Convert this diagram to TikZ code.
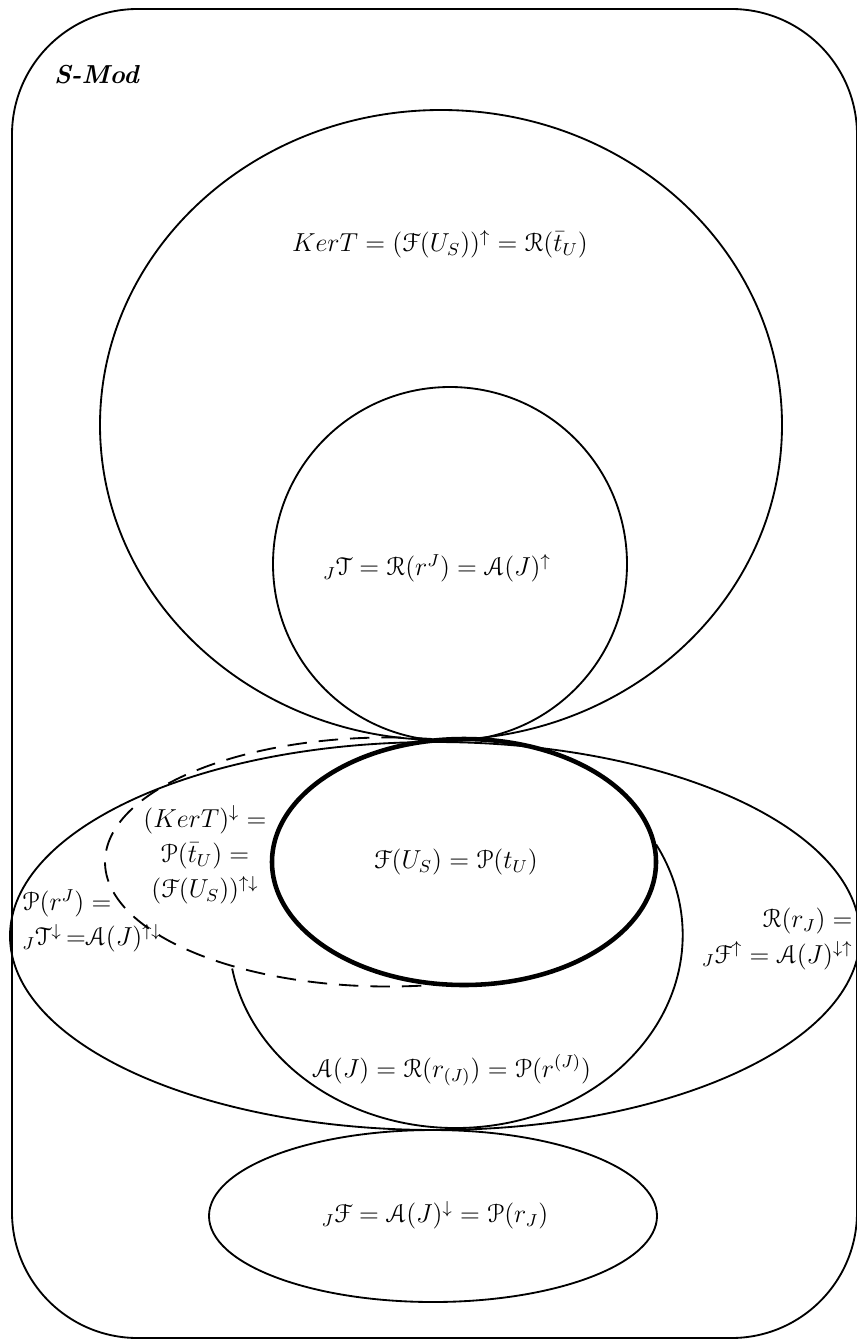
\documentclass[tikz,border=0pt]{standalone}
\usepackage[mathcal]{eucal}
\begin{document}
\begin{tikzpicture}[x=0.4615pt,y=0.4615pt,
  lbl/.style={inner sep=0pt, font=\fontsize{12}{16.2}\selectfont},
  setline/.style={line width=0.85pt},
  thickset/.style={line width=2.1pt},
  dashset/.style={line width=0.85pt, dash pattern=on 9pt off 5.5pt}]
\useasboundingbox (0,0) rectangle (856,-1340);
% outer frame
\draw[setline, rounded corners=58pt] (12,-9) rectangle (857,-1338);
\node[lbl, anchor=center] (smod) at (97,-75) {\textbf{\textit{S-Mod}}};
% big top ellipse: Ker T
\draw[setline] (441,-425) ellipse [x radius=341, y radius=315];
% inner circle: J T
\draw[setline] (450,-564) circle [radius=177];
% big middle ellipse
\draw[setline] (435,-936) ellipse [x radius=425, y radius=194];
% bottom ellipse
\draw[setline] (433,-1216) ellipse [x radius=224, y radius=86];
% A(J) arc
\draw[setline] ([shift={(190:227 and 193)}]455.7,-935) arc[start angle=190, end angle=388, x radius=227, y radius=193];
% dashed arc
\draw[dashset] ([shift={(81:283 and 124.5)}]388,-862) arc[start angle=81, end angle=281, x radius=283, y radius=124.5];
% thick ellipse F(U_S)
\draw[thickset] (464,-862) ellipse [x radius=192, y radius=123];
% labels
\node[lbl] (kert) at (440,-244) {$KerT=(\mathcal{F}(U_S))^{\uparrow}=\mathcal{R}(\bar{t}_U)$};
\node[lbl] (jt) at (437,-568) {${}_J\mathcal{T}=\mathcal{R}(r^J)=\mathcal{A}(J)^{\uparrow}$};
\node[lbl] (fus) at (456,-862) {$\mathcal{F}(U_S)=\mathcal{P}(t_U)$};
\node[lbl, align=center] (kerdown) at (205,-855) {$(KerT)^{\downarrow}=$\\ $\mathcal{P}(\bar{t}_U)=$\\ $(\mathcal{F}(U_S))^{\uparrow\downarrow}$};
\node[lbl, align=left, anchor=west] (prj) at (22,-921) {$\mathcal{P}(r^J)=$\\ ${}_J\mathcal{T}^{\downarrow}\,{=}\mathcal{A}(J)^{\uparrow\downarrow}$};
\node[lbl, align=right, anchor=east] (rrj) at (853,-939) {$\mathcal{R}(r_J)=$\\ ${}_J\mathcal{F}^{\uparrow}=\mathcal{A}(J)^{\downarrow\uparrow}$};
\node[lbl] (aj) at (452,-1070) {$\mathcal{A}(J)=\mathcal{R}(r_{(J)})=\mathcal{P}(r^{(J)})$};
\node[lbl] (jf) at (435,-1215) {${}_J\mathcal{F}=\mathcal{A}(J)^{\downarrow}=\mathcal{P}(r_J)$};
\end{tikzpicture}
\end{document}
